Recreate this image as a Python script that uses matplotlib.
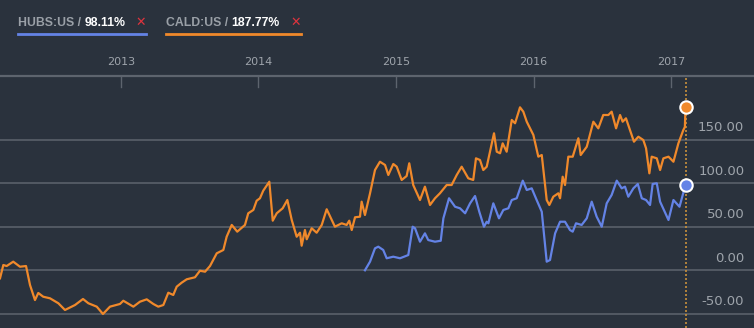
import numpy as np
import matplotlib
matplotlib.use("Agg")
import matplotlib.pyplot as plt
import matplotlib.transforms as mtransforms

# CALD:US cumulative change (%), dates as decimal years
cald_t = [2012.123, 2012.147, 2012.171, 2012.219, 2012.268, 2012.312, 2012.341, 2012.377,
          2012.401, 2012.437, 2012.486, 2012.547, 2012.595, 2012.668, 2012.726, 2012.765,
          2012.826, 2012.871, 2012.922, 2012.995, 2013.019, 2013.092, 2013.140, 2013.189,
          2013.237, 2013.273, 2013.310, 2013.346, 2013.382, 2013.407, 2013.443, 2013.480,
          2013.540, 2013.576, 2013.613, 2013.649, 2013.698, 2013.746, 2013.770, 2013.807,
          2013.847, 2013.903, 2013.927, 2013.964, 2013.988, 2014.012, 2014.036, 2014.080,
          2014.105, 2014.134, 2014.177, 2014.211, 2014.243, 2014.279, 2014.303, 2014.315,
          2014.339, 2014.352, 2014.388, 2014.424, 2014.461, 2014.497, 2014.557, 2014.606,
          2014.642, 2014.661, 2014.679, 2014.703, 2014.739, 2014.751, 2014.775, 2014.812,
          2014.848, 2014.884, 2014.921, 2014.945, 2014.981, 2015.006, 2015.042, 2015.078,
          2015.097, 2015.126, 2015.175, 2015.211, 2015.248, 2015.284, 2015.320, 2015.369,
          2015.405, 2015.442, 2015.478, 2015.526, 2015.562, 2015.582, 2015.611, 2015.635,
          2015.660, 2015.713, 2015.733, 2015.757, 2015.776, 2015.805, 2015.842, 2015.866,
          2015.902, 2015.926, 2015.951, 2015.999, 2016.035, 2016.060, 2016.096, 2016.115,
          2016.144, 2016.180, 2016.193, 2016.212, 2016.229, 2016.253, 2016.285, 2016.326,
          2016.343, 2016.387, 2016.435, 2016.471, 2016.507, 2016.544, 2016.568, 2016.600,
          2016.629, 2016.648, 2016.672, 2016.701, 2016.730, 2016.762, 2016.798, 2016.818,
          2016.842, 2016.859, 2016.896, 2016.920, 2016.944, 2016.981, 2017.017, 2017.053,
          2017.089, 2017.100, 2017.105]
cald_v = [-9.2, 6.1, 4.9, 9.9, 4.1, 4.9, -16.9, -34.1,
          -26.0, -30.3, -32.1, -37.8, -45.5, -39.8, -32.9, -37.8,
          -41.7, -50.1, -41.7, -38.6, -34.9, -41.7, -36.0, -33.3,
          -38.6, -41.7, -39.8, -25.7, -28.3, -18.8, -14.2, -10.3,
          -8.0, -0.5, -1.6, 4.9, 19.5, 23.3, 38.5, 52.0,
          44.3, 52.0, 65.4, 69.2, 79.8, 82.6, 91.3, 101.6,
          56.9, 65.4, 71.1, 80.6, 57.7, 38.5, 43.1, 28.2,
          46.2, 35.6, 48.2, 43.1, 52.0, 70.0, 50.0, 53.9,
          52.0, 56.9, 46.2, 60.8, 61.5, 78.7, 63.4, 88.3,
          115.0, 124.5, 120.8, 109.3, 121.9, 118.8, 103.6, 108.1,
          122.7, 97.8, 80.6, 95.9, 74.9, 82.6, 88.3, 97.8,
          97.8, 109.3, 118.8, 105.5, 103.6, 128.4, 126.5, 115.0,
          118.8, 157.1, 136.0, 134.2, 145.6, 136.0, 172.4, 168.6,
          186.9, 181.9, 170.4, 155.2, 130.3, 132.2, 80.6, 74.9,
          84.4, 88.3, 82.6, 107.3, 97.8, 130.3, 130.3, 151.4,
          132.2, 141.7, 170.4, 162.8, 178.1, 178.1, 181.9, 162.8,
          178.1, 170.4, 174.3, 160.9, 147.5, 153.2, 149.4, 139.9,
          111.2, 130.3, 128.4, 115.0, 128.4, 130.3, 124.5, 145.6,
          160.9, 164.3, 187.77]

# HUBS:US cumulative change (%)
hubs_t = [2014.775, 2014.812, 2014.848, 2014.872, 2014.908, 2014.933, 2014.981, 2015.030,
          2015.090, 2015.122, 2015.139, 2015.175, 2015.211, 2015.235, 2015.284, 2015.326,
          2015.345, 2015.386, 2015.430, 2015.466, 2015.503, 2015.539, 2015.575, 2015.606,
          2015.640, 2015.660, 2015.672, 2015.708, 2015.749, 2015.781, 2015.817, 2015.842,
          2015.878, 2015.922, 2015.951, 2015.987, 2016.023, 2016.060, 2016.096, 2016.120,
          2016.157, 2016.193, 2016.229, 2016.265, 2016.285, 2016.309, 2016.350, 2016.387,
          2016.423, 2016.459, 2016.496, 2016.532, 2016.568, 2016.605, 2016.641, 2016.665,
          2016.689, 2016.726, 2016.758, 2016.787, 2016.818, 2016.847, 2016.866, 2016.896,
          2016.920, 2016.981, 2017.017, 2017.061, 2017.105]
hubs_v = [0.0, 9.9, 25.2, 27.1, 23.3, 13.8, 15.6, 13.8,
          17.5, 50.0, 48.2, 32.8, 42.4, 34.7, 32.8, 33.9,
          59.6, 82.6, 72.9, 71.1, 65.4, 76.8, 85.2, 67.2,
          50.0, 55.7, 53.9, 76.8, 59.6, 69.2, 71.1, 80.6,
          82.6, 102.8, 92.1, 94.0, 80.6, 67.2, 9.9, 11.8,
          42.4, 55.7, 55.7, 46.2, 44.3, 53.9, 52.0, 59.6,
          78.7, 61.5, 50.0, 76.8, 86.4, 102.8, 94.0, 95.9,
          84.4, 94.0, 99.0, 82.6, 80.6, 74.9, 99.0, 99.8,
          78.7, 57.7, 80.6, 72.9, 98.11]

years = [2013, 2014, 2015, 2016, 2017]
ylevels = [-50, 0, 50, 100, 150]
legend_names = ["HUBS:US", "CALD:US"]
legend_vals = ["98.11%", "187.77%"]

BG = "#2a323d"
GRID = "#5d646e"
ORANGE = "#f0892b"
BLUE = "#6483e6"
LABEL = "#9ea4ab"

W, H = 754, 328
fig = plt.figure(figsize=(W / 100, H / 100), dpi=100, facecolor=BG)
top_px = 76
ax = fig.add_axes([0, 0, 1, (H - top_px) / H])
ax.set_facecolor(BG)

# pixel -> data calibration from the reference
px_per_year = 137.6
x0_year = 2013 - 120.7 / px_per_year
ax.set_xlim(x0_year, x0_year + W / px_per_year)
px_per_unit = 0.872
ax.set_ylim((270.3 - H) / px_per_unit, (270.3 - top_px) / px_per_unit)

for s in ax.spines.values():
    s.set_visible(False)
ax.set_xticks([])
ax.set_yticks([])

for lv in ylevels:
    ax.axhline(lv, color=GRID, lw=1.1, zorder=1)
    ax.annotate("%.2f" % lv, xy=(1, lv), xycoords=ax.get_yaxis_transform(),
                xytext=(-7, 4), textcoords="offset points", ha="right", va="bottom",
                color=LABEL, fontsize=9.5)

# top axis line with year ticks
ax.axhline(ax.get_ylim()[1], color=GRID, lw=1.6, zorder=2, clip_on=False)
trans = mtransforms.blended_transform_factory(ax.transData, ax.transAxes)
for yr in years:
    ax.plot([yr, yr], [1, 1 - 11 / (H - top_px)], color=GRID, lw=1, transform=trans,
            clip_on=False, zorder=2)
    ax.text(yr, 1 + 14 / (H - top_px), str(yr), transform=trans, ha="center",
            va="center", color=LABEL, fontsize=8)

end_t = cald_t[-1]
ax.axvline(end_t, color="#c8903c", lw=1.2, ls=(0, (1.2, 1.2)), zorder=2)

ax.plot(cald_t, cald_v, color=ORANGE, lw=1.6, zorder=3)
ax.plot(hubs_t, hubs_v, color=BLUE, lw=1.6, zorder=3)
ax.scatter([end_t], [cald_v[-1]], s=80, color=ORANGE, edgecolor="white", lw=1.5, zorder=4)
ax.scatter([end_t], [hubs_v[-1]], s=80, color=BLUE, edgecolor="white", lw=1.5, zorder=4)

# legend in the header
fig.canvas.draw()
r = fig.canvas.get_renderer()
def fx(px):
    return px / W
def fy(py):
    return 1 - py / H
starts = [18, 166]
ends = [146, 301]
for name, val, x, xe, col in zip(legend_names, legend_vals, starts, ends, [BLUE, ORANGE]):
    t1 = fig.text(fx(x), fy(23), name + " / ", color="#9aa0a7", fontsize=8.8,
                  fontweight="bold", family="Liberation Sans", va="center", ha="left")
    bb = t1.get_window_extent(r)
    fig.text(bb.x1 / W, fy(23), val, color="white", fontsize=8.8, fontweight="bold",
             family="Liberation Sans", va="center", ha="left")
    fig.text(fx(xe - 5), fy(22), "\u2715", color="#e0343e", fontsize=9,
             va="center", ha="center")
    fig.add_artist(plt.Line2D([fx(x), fx(xe)], [fy(33.5), fy(33.5)], color=col, lw=2))

fig.savefig("out.png", dpi=100, facecolor=BG)
